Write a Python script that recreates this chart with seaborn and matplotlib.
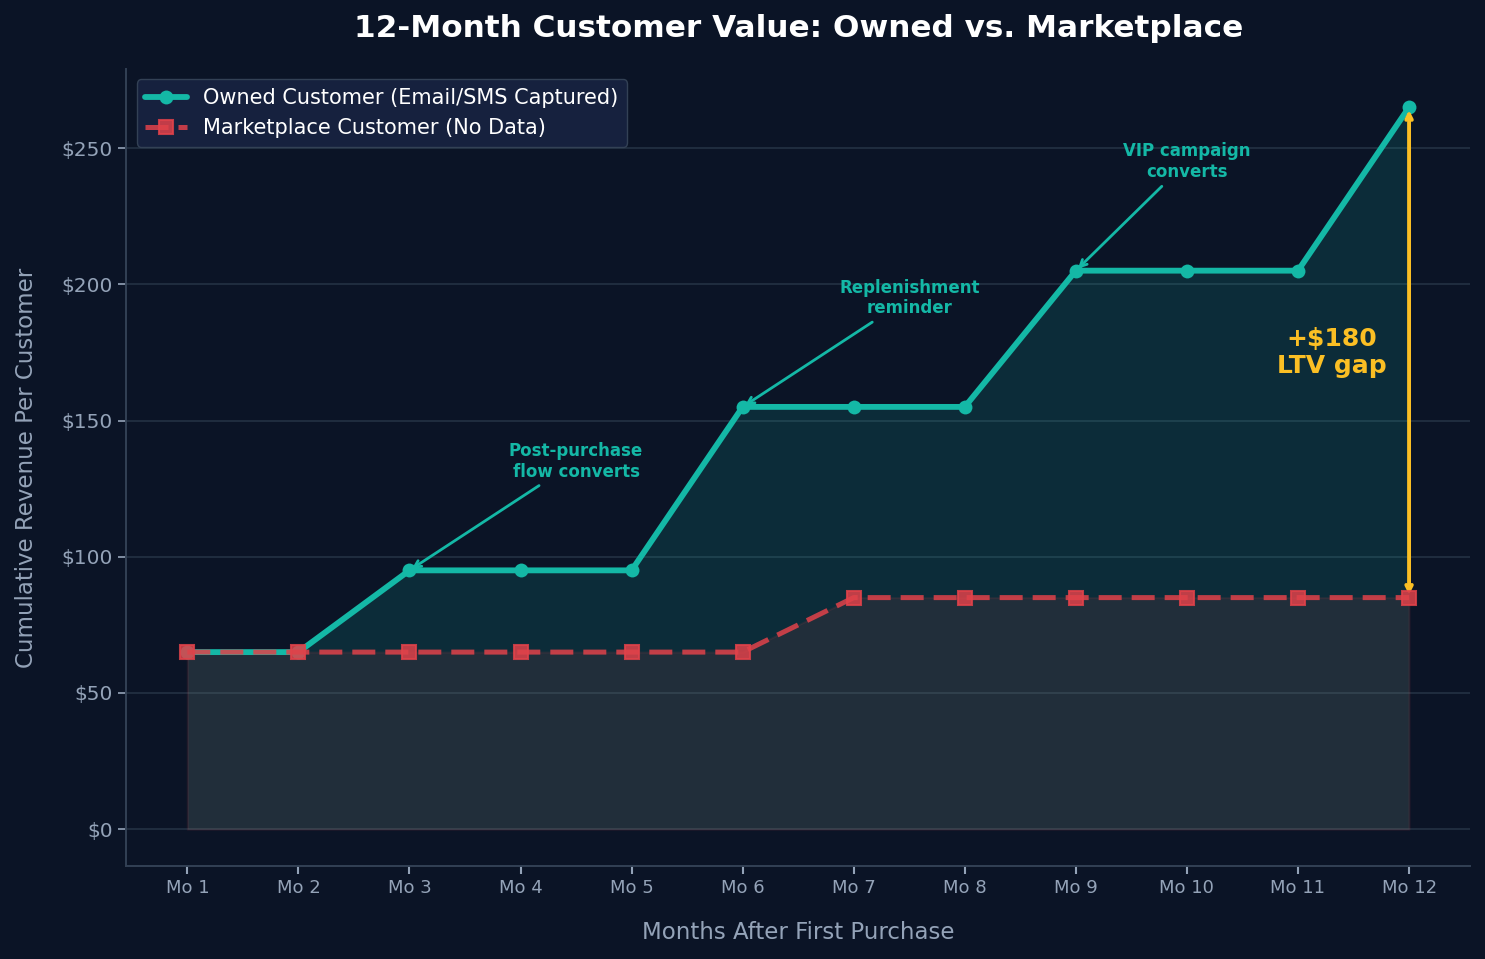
import numpy as np
import pandas as pd
import matplotlib
matplotlib.use('Agg')
import matplotlib.pyplot as plt
import seaborn as sns

# Chart data
months = ['Mo 1', 'Mo 2', 'Mo 3', 'Mo 4', 'Mo 5', 'Mo 6',
          'Mo 7', 'Mo 8', 'Mo 9', 'Mo 10', 'Mo 11', 'Mo 12']
owned = [65, 65, 95, 95, 95, 155, 155, 155, 205, 205, 205, 265]
marketplace = [65, 65, 65, 65, 65, 65, 85, 85, 85, 85, 85, 85]
owned_label = 'Owned Customer (Email/SMS Captured)'
market_label = 'Marketplace Customer (No Data)'
# (point index, text x position, text)
notes = [(2, 3.5, 'Post-purchase\nflow converts'),
         (5, 6.5, 'Replenishment\nreminder'),
         (8, 9.0, 'VIP campaign\nconverts')]

BG = '#0b1426'
TEAL = '#14b8a6'
RED = '#e0424a'
GOLD = '#fbbf24'
MUTED = '#94a3b8'

sns.set_style('dark')
plt.rcParams['font.family'] = ['DejaVu Sans']

x = np.arange(len(months))
df = pd.DataFrame({'x': x, 'owned': owned, 'market': marketplace})

fig, ax = plt.subplots(figsize=(14.85, 9.59), dpi=100)
fig.patch.set_facecolor(BG)
ax.set_facecolor(BG)

# filled areas
ax.fill_between(x, 0, owned, color=TEAL, alpha=0.15, linewidth=0, zorder=1)
ax.fill_between(x, 0, marketplace, color=RED, alpha=0.1,
                linewidth=1.5, zorder=1)

sns.lineplot(data=df, x='x', y='owned', ax=ax, color=TEAL, linewidth=4.2,
             marker='o', markersize=10, markeredgewidth=0,
             label=owned_label, zorder=3)
sns.lineplot(data=df, x='x', y='market', ax=ax, color=RED, linewidth=3.6,
             linestyle=(0, (4.6, 2)), marker='s', markersize=9.5,
             markeredgewidth=1.5, markeredgecolor=RED, alpha=0.85,
             label=market_label, zorder=4)

# annotations for campaign lifts
for i, tx, txt in notes:
    ax.annotate(txt, xy=(x[i], owned[i]), xytext=(tx, owned[i] + 40),
                ha='center', va='center', fontsize=12, fontweight='bold',
                color=TEAL,
                arrowprops=dict(arrowstyle='->', color=TEAL, lw=2))

# LTV gap arrow
gap = owned[-1] - marketplace[-1]
ax.annotate('', xy=(x[-1], marketplace[-1]), xytext=(x[-1], owned[-1]),
            arrowprops=dict(arrowstyle='<->', color=GOLD, lw=2.8))
ax.text(x[-1] - 0.7, (owned[-1] + marketplace[-1]) / 2, f'+${gap}\nLTV gap',
        ha='center', va='center', fontsize=18, fontweight='bold', color=GOLD)

ax.set_xticks(x)
ax.set_xticklabels(months)
ax.set_xlim(-0.55, 11.55)
ax.set_ylim(-13.5, 279)
ax.set_yticks([0, 50, 100, 150, 200, 250])
ax.set_yticklabels([f'${v}' for v in [0, 50, 100, 150, 200, 250]])

ax.set_title('12-Month Customer Value: Owned vs. Marketplace',
             fontsize=22.4, fontweight='bold', color='white', pad=23)
ax.set_xlabel('Months After First Purchase', fontsize=16.5, color=MUTED, labelpad=17)
ax.set_ylabel('Cumulative Revenue Per Customer', fontsize=16.5, color=MUTED, labelpad=17)

ax.tick_params(axis='y', colors=MUTED, labelsize=14.5, length=6, width=1.2, left=True)
ax.tick_params(axis='x', colors=MUTED, labelsize=13, length=6, width=1.5, bottom=True)
for t in ax.xaxis.get_ticklines():
    t.set_color('black')

ax.grid(axis='y', color='#243244', linewidth=1.2)
ax.grid(axis='x', visible=False)
for side in ['top', 'right']:
    ax.spines[side].set_visible(False)
for side in ['left', 'bottom']:
    ax.spines[side].set_visible(True)
    ax.spines[side].set_color('#334155')
    ax.spines[side].set_linewidth(1.4)

leg = ax.legend(loc='upper left', fontsize=15, facecolor='#16213e',
                edgecolor='#334155', framealpha=1, labelcolor='white')

fig.subplots_adjust(left=0.085, right=0.99, top=0.928, bottom=0.097)
fig.savefig('out.png', dpi=100, facecolor=BG)
